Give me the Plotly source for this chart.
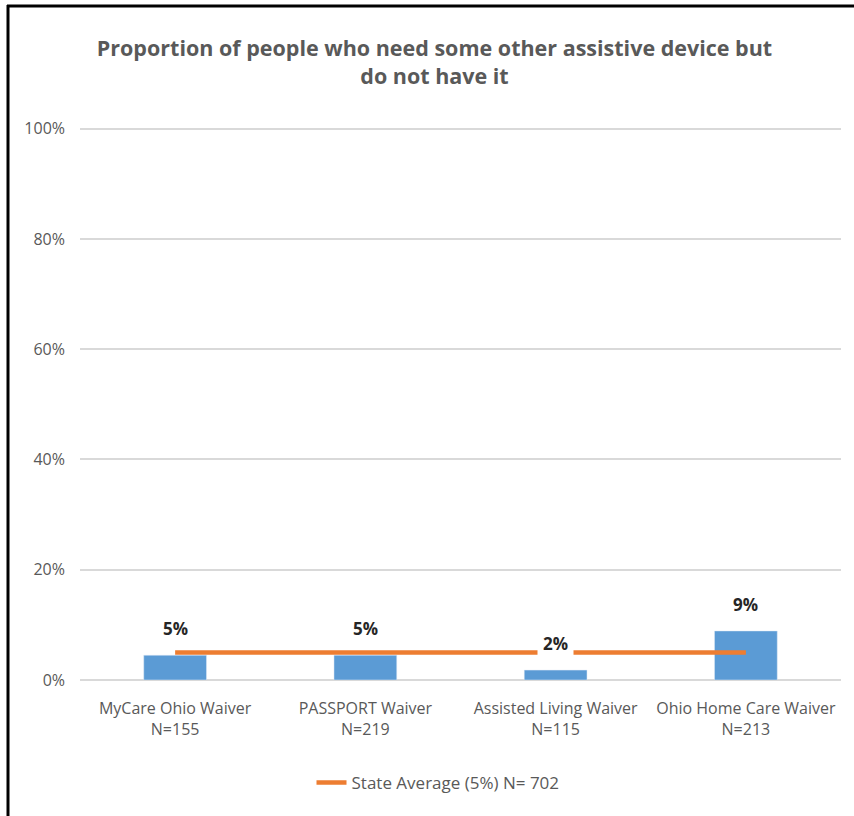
import plotly.graph_objects as go

categories = ["MyCare Ohio Waiver<br>N=155", "PASSPORT Waiver<br>N=219",
              "Assisted Living Waiver<br>N=115", "Ohio Home Care Waiver<br>N=213"]
values = [0.045, 0.045, 0.018, 0.089]
value_labels = ["5%", "5%", "2%", "9%"]
state_avg = 0.05
state_label = "State Average (5%) N= 702"
title_text = "Proportion of people who need some other assistive device but<br>do not have it"
y_ticks = [0, 0.2, 0.4, 0.6, 0.8, 1.0]
y_ticklabels = ["0%", "20%", "40%", "60%", "80%", "100%"]

FONT = "Open Sans"
GRAY = "#595959"

fig = go.Figure()
fig.add_trace(go.Bar(x=categories, y=values, marker_color="#5b9bd5",
                     width=0.33, showlegend=False, hoverinfo="skip"))
fig.add_trace(go.Scatter(x=categories, y=[state_avg] * len(categories), mode="lines",
                         line=dict(color="#ed7d31", width=4.5), name=state_label))

for c, v, t in zip(categories, values, value_labels):
    fig.add_annotation(x=c, y=v, text="<b>%s</b>" % t, showarrow=False,
                       yanchor="bottom", yshift=9, bgcolor="white", borderpad=5,
                       font=dict(family=FONT, size=17, color="#262626"))

W, H = 854, 816
L, R, T, B = 80, 13, 127, 136
pw, ph = W - L - R, H - T - B

def px(x):
    return (x - L) / pw

def py(y):
    return (H - B - y) / ph

fig.add_shape(type="line", xref="paper", yref="paper", x0=px(7), x1=px(854),
              y0=py(6), y1=py(6), line=dict(color="black", width=3))
fig.add_shape(type="line", xref="paper", yref="paper", x0=px(8), x1=px(8),
              y0=py(5), y1=py(816), line=dict(color="black", width=3))

fig.update_layout(
    width=W, height=H,
    margin=dict(l=L, r=R, t=T, b=B),
    plot_bgcolor="white", paper_bgcolor="white",
    title=dict(text="<b>%s</b>" % title_text, x=434.5 / W, xanchor="center",
               y=1 - 56 / H, yanchor="middle",
               font=dict(family=FONT, size=21.5, color=GRAY)),
    yaxis=dict(range=[0, 1.003], tickvals=y_ticks, ticktext=y_ticklabels,
               showgrid=True, gridcolor="#d9d9d9", gridwidth=1.5,
               zeroline=True, zerolinecolor="#d9d9d9", zerolinewidth=1.5,
               tickfont=dict(family=FONT, size=16, color=GRAY), ticks="",
               ticklabelstandoff=14),
    xaxis=dict(tickfont=dict(family=FONT, size=16, color=GRAY), showline=False,
               ticks="", ticklabelstandoff=17),
    legend=dict(orientation="h", x=px(438), xanchor="center", y=py(783), yanchor="middle",
                font=dict(family=FONT, size=17, color=GRAY)),
    bargap=0.67,
)

fig.write_html("out.html", config={"displayModeBar": False},
               post_script="document.body.style.margin='0';")
